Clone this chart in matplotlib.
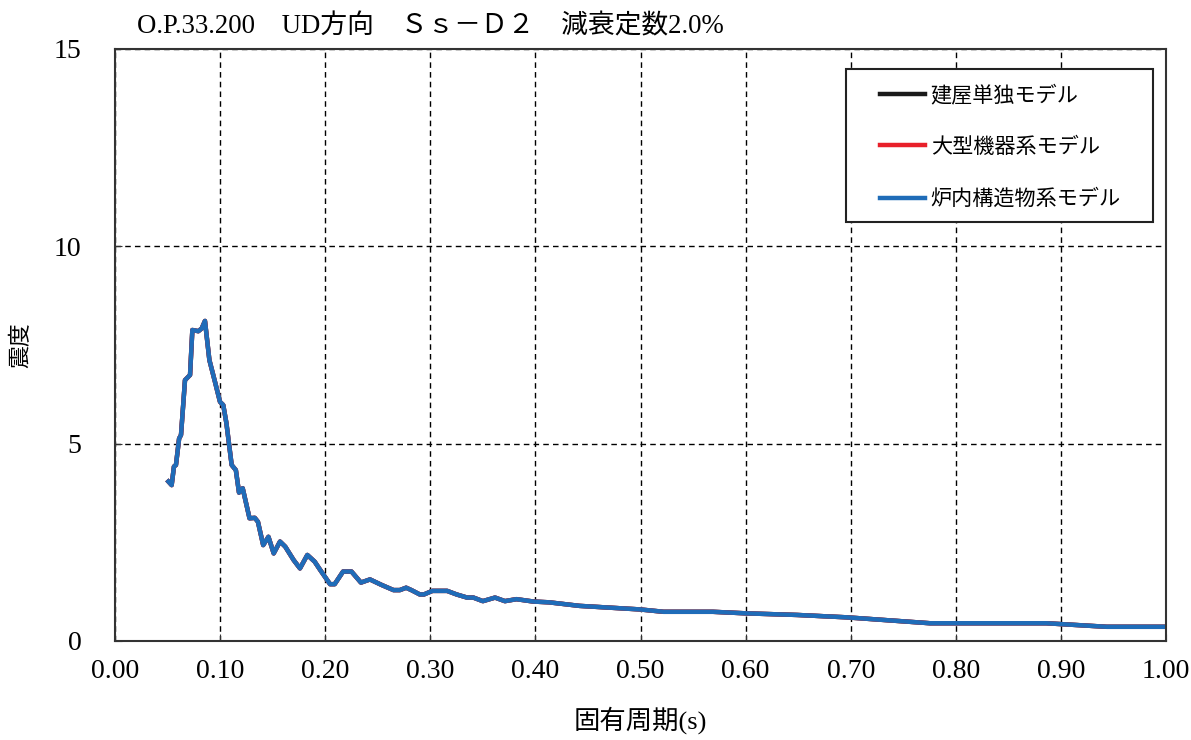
import matplotlib
matplotlib.use("Agg")
import matplotlib.pyplot as plt
from matplotlib.ticker import FixedLocator
from matplotlib.patches import Rectangle

plt.rcParams['font.family'] = ['Liberation Serif', 'Noto Sans CJK JP']

title = "O.P.33.200　UD方向　Ｓｓ－Ｄ２　減衰定数2.0%"
xlabel = "固有周期(s)"
ylabel = "震度"
series_names = ["建屋単独モデル", "大型機器系モデル", "炉内構造物系モデル"]
series_colors = ["#1a1a1a", "#e8202a", "#1f6cb8"]

period = [0.0508, 0.0539, 0.0561, 0.058, 0.061, 0.0628, 0.0666, 0.0714, 0.0736, 0.0793,
          0.0825, 0.0856, 0.0898, 0.0951, 0.0999, 0.103, 0.106, 0.111, 0.115, 0.118,
          0.1215, 0.128, 0.133, 0.136, 0.141, 0.146, 0.151, 0.157, 0.162, 0.170,
          0.176, 0.183, 0.190, 0.195, 0.2046, 0.209, 0.217, 0.225, 0.234, 0.2426,
          0.2537, 0.265, 0.271, 0.277, 0.282, 0.290, 0.294, 0.302, 0.316, 0.325,
          0.335, 0.341, 0.350, 0.3616, 0.371, 0.382, 0.398, 0.413, 0.442, 0.4995,
          0.522, 0.569, 0.601, 0.649, 0.696, 0.7755, 0.886, 0.9436, 1.0]
accel = [4.04, 3.95, 4.42, 4.46, 5.13, 5.22, 6.61, 6.74, 7.88, 7.85,
         7.92, 8.11, 7.12, 6.57, 6.06, 5.98, 5.52, 4.46, 4.33, 3.76,
         3.87, 3.11, 3.12, 3.02, 2.43, 2.64, 2.22, 2.52, 2.39, 2.05,
         1.84, 2.18, 2.01, 1.81, 1.44, 1.44, 1.76, 1.76, 1.48, 1.56,
         1.42, 1.29, 1.29, 1.35, 1.29, 1.18, 1.18, 1.27, 1.27, 1.18,
         1.10, 1.10, 1.01, 1.10, 1.01, 1.06, 1.00, 0.98, 0.89, 0.80,
         0.74, 0.74, 0.70, 0.66, 0.60, 0.45, 0.45, 0.36, 0.36]

xticks = [0.0, 0.1, 0.2, 0.3, 0.4, 0.5, 0.6, 0.7, 0.8, 0.9, 1.0]
xticklabels = ["0.00", "0.10", "0.20", "0.30", "0.40", "0.50", "0.60", "0.70", "0.80", "0.90", "1.00"]
yticks = [0, 5, 10, 15]

W, H = 1191, 740
L, R, T, B = 115, 1166, 49, 641
fig = plt.figure(figsize=(W/100, H/100), dpi=100)
ax = fig.add_axes([L/W, 1-B/H, (R-L)/W, (B-T)/H])

def ax_x(px):
    return (px - L) / (R - L)

def ax_y(py):
    return (B - py) / (B - T)

for name, c in zip(series_names, series_colors):
    ax.plot(period, accel, color=c, lw=3.2, label=name, solid_joinstyle='round')

ax.set_xlim(0, 1.0)
ax.set_ylim(0, 15)
ax.xaxis.set_major_locator(FixedLocator(xticks))
ax.set_xticklabels(xticklabels)
ax.yaxis.set_major_locator(FixedLocator(yticks))
ax.grid(True, color='black', linestyle=(0, (4, 3)), lw=1.0)
ax.tick_params(direction='in', length=5, labelsize=20, pad=13, color='#333333')
ax.tick_params(axis='y', pad=24)
for s in ax.spines.values():
    s.set_linewidth(1.5)
    s.set_color('#333333')

ax.set_xlabel(xlabel, fontsize=19, va='center')
ax.xaxis.set_label_coords(0.5, ax_y(720))
ax.set_ylabel(ylabel, fontsize=16.5, va='center')
ax.yaxis.set_label_coords(ax_x(22), ax_y(345))
fig.text(137/W, 1-27/H, title, fontsize=19.3, ha='left', va='center')

# legend frame
ax.add_patch(Rectangle((ax_x(846), ax_y(222)), ax_x(1153)-ax_x(846), ax_y(69)-ax_y(222),
                       transform=ax.transAxes, facecolor='white', edgecolor='#222222',
                       lw=1.5, zorder=5))
leg = ax.legend(loc='upper left', bbox_to_anchor=(ax_x(880), ax_y(85)),
                borderaxespad=0, fontsize=15.2, handlelength=2.15, handletextpad=0.25,
                labelspacing=1.5, borderpad=0, frameon=False)
leg.set_zorder(6)
for line in leg.get_lines():
    line.set_linewidth(3.2)

fig.savefig("out.png", dpi=100)
